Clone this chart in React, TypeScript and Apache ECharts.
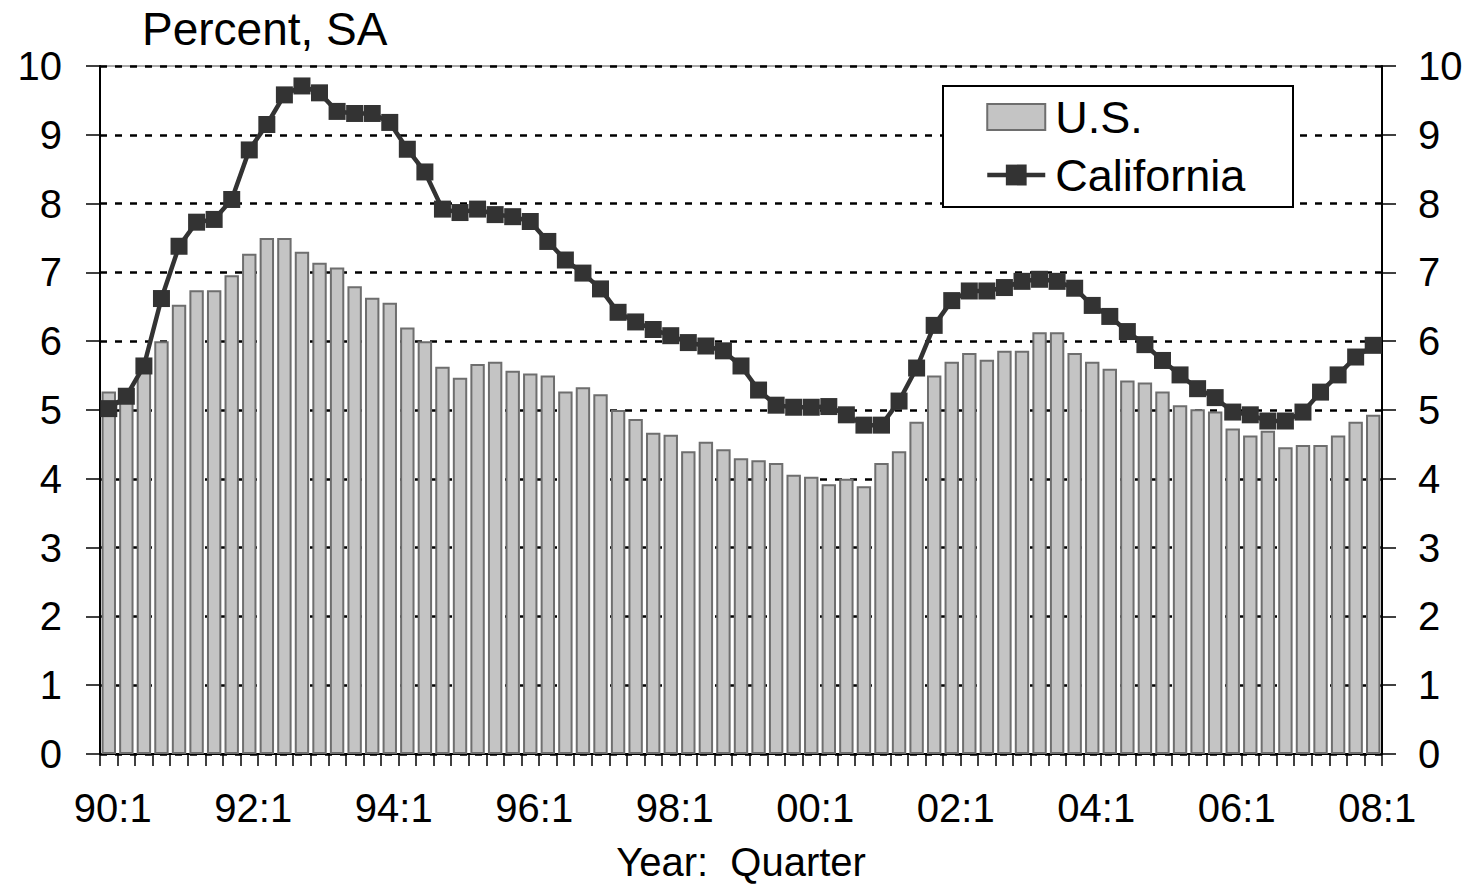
import React, { useEffect, useRef } from "react";
import * as echarts from "echarts";

const years = ["90", "91", "92", "93", "94", "95", "96", "97", "98", "99", "00", "01", "02", "03", "04", "05", "06", "07", "08"];
const quarters = ["1", "2", "3", "4"];
const categories: string[] = [];
years.forEach((y) => quarters.forEach((q) => categories.push(`${y}:${q}`)));
categories.splice(73);

const usRate = [
  5.27, 5.2, 5.6, 6.0, 6.53, 6.74, 6.74, 6.96, 7.27, 7.5, 7.5, 7.3,
  7.14, 7.07, 6.8, 6.63, 6.56, 6.2, 6.0, 5.63, 5.47, 5.67, 5.7, 5.57,
  5.53, 5.5, 5.27, 5.33, 5.23, 5.0, 4.87, 4.67, 4.64, 4.4, 4.54, 4.43,
  4.3, 4.27, 4.23, 4.06, 4.03, 3.92, 4.0, 3.89, 4.23, 4.4, 4.83, 5.5,
  5.7, 5.83, 5.73, 5.86, 5.86, 6.13, 6.13, 5.83, 5.7, 5.6, 5.43, 5.4,
  5.27, 5.07, 5.01, 4.98, 4.73, 4.63, 4.7, 4.46, 4.49, 4.49, 4.63, 4.83,
  4.93,
];

const caRate = [
  5.02, 5.2, 5.64, 6.62, 7.38, 7.73, 7.77, 8.06, 8.78, 9.15, 9.58, 9.71,
  9.61, 9.34, 9.31, 9.31, 9.18, 8.79, 8.46, 7.92, 7.87, 7.92, 7.84, 7.81,
  7.74, 7.45, 7.18, 6.99, 6.76, 6.42, 6.28, 6.17, 6.08, 5.98, 5.93, 5.86,
  5.64, 5.29, 5.07, 5.04, 5.04, 5.05, 4.93, 4.78, 4.78, 5.13, 5.61, 6.23,
  6.59, 6.73, 6.73, 6.78, 6.87, 6.9, 6.87, 6.77, 6.52, 6.36, 6.14, 5.95,
  5.72, 5.51, 5.31, 5.18, 4.97, 4.93, 4.84, 4.84, 4.97, 5.26, 5.51, 5.77,
  5.94,
];

const seriesNames = ["U.S.", "California"];
const titleText = "Percent, SA";
const xAxisName = "Year:  Quarter";

const FONT = "'Liberation Sans', Arial, sans-serif";

export default function App() {
  const ref = useRef<HTMLDivElement>(null);

  useEffect(() => {
    document.body.style.margin = "0";
    if (!ref.current) return;
    const chart = echarts.init(ref.current, undefined, { renderer: "svg" });

    const valueAxisBase = {
      type: "value" as const,
      min: 0,
      max: 10,
      interval: 1,
      axisLine: { show: true, lineStyle: { color: "#000", width: 2 } },
      axisTick: { show: true, length: 14, lineStyle: { color: "#000", width: 1.5 } },
    };

    chart.setOption({
      animation: false,
      backgroundColor: "#fff",
      textStyle: { fontFamily: FONT, color: "#000" },
      title: {
        text: titleText,
        left: 142,
        top: 6,
        padding: 0,
        textStyle: { fontSize: 46, fontWeight: "normal", color: "#000", fontFamily: FONT },
      },
      grid: {
        left: 100,
        right: 97,
        top: 66,
        bottom: 129,
        show: true,
        borderColor: "#555",
        borderWidth: 1,
        backgroundColor: "transparent",
      },
      legend: {
        data: [
          { name: seriesNames[0], icon: "rect" },
          { name: seriesNames[1], lineStyle: { width: 4.5, color: "#333" } },
        ],
        orient: "vertical",
        left: 985,
        top: 94,
        padding: 0,
        itemWidth: 58,
        itemHeight: 26,
        itemGap: 12,
        z: 6,
        textStyle: { fontSize: 45, lineHeight: 46, color: "#000", fontFamily: FONT, padding: [0, 0, 0, 5] },
      },
      graphic: [
        {
          type: "rect",
          shape: { x: 943, y: 86, width: 350, height: 121 },
          style: { fill: "#fff", stroke: "#000", lineWidth: 2 },
          z: 5,
        },
      ],
      xAxis: {
        type: "category",
        data: categories,
        boundaryGap: true,
        axisLine: { show: true, lineStyle: { color: "#000", width: 2 } },
        axisTick: { show: true, interval: 0, length: 12, lineStyle: { color: "#000", width: 1.5 } },
        axisLabel: { interval: 7, fontSize: 40, color: "#000", margin: 34, fontFamily: FONT, padding: [0, 0, 0, 8] },
        splitLine: { show: false },
        name: xAxisName,
        nameLocation: "middle",
        nameGap: 88,
        nameTextStyle: { fontSize: 40, color: "#000", fontFamily: FONT },
      },
      yAxis: [
        {
          ...valueAxisBase,
          position: "left",
          axisLabel: { fontSize: 40, color: "#000", margin: 38, fontFamily: FONT },
          splitLine: { show: true, lineStyle: { color: "#000", type: [7, 8], width: 2.5 } },
        },
        {
          ...valueAxisBase,
          position: "right",
          axisLabel: { fontSize: 40, color: "#000", margin: 36, fontFamily: FONT },
          splitLine: { show: false },
        },
      ],
      series: [
        {
          name: seriesNames[0],
          type: "bar",
          data: usRate,
          yAxisIndex: 0,
          barCategoryGap: "18%",
          itemStyle: { color: "#c4c4c4", borderColor: "#6e6e6e", borderWidth: 2 },
          z: 2,
        },
        {
          name: seriesNames[1],
          type: "line",
          data: caRate,
          yAxisIndex: 0,
          symbol: "rect",
          symbolSize: 17,
          showAllSymbol: true,
          lineStyle: { color: "#333", width: 4.5 },
          itemStyle: { color: "#333" },
          z: 3,
        },
      ],
    });

    return () => chart.dispose();
  }, []);

  return <div ref={ref} style={{ width: 1479, height: 887 }} />;
}
